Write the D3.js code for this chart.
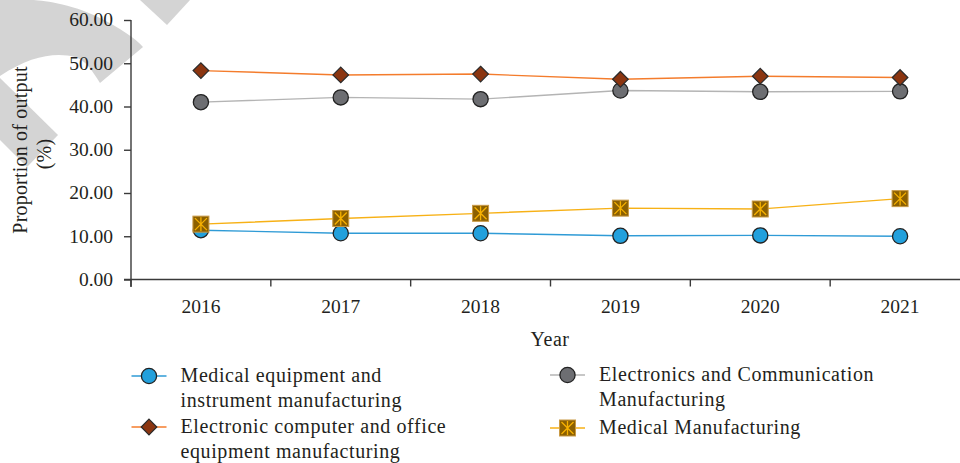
<!DOCTYPE html>
<html><head><meta charset="utf-8">
<script src="https://cdn.jsdelivr.net/npm/d3@7"></script>
<style>html,body{margin:0;padding:0;background:#fff;}svg{display:block;}</style>
</head><body>
<svg id="c" width="960" height="463"></svg>
<script>
const years = ["2016","2017","2018","2019","2020","2021"];
const yTicks = [0,10,20,30,40,50,60];
const medEquip = [11.4,10.7,10.7,10.1,10.2,10.0];
const elecComputer = [48.3,47.3,47.5,46.3,47.0,46.7];
const elecComm = [41.0,42.1,41.7,43.7,43.4,43.5];
const medManu = [12.8,14.1,15.3,16.5,16.3,18.7];
const seriesNames = ["Medical equipment and\ninstrument manufacturing","Electronic computer and office\nequipment manufacturing","Electronics and Communication\nManufacturing","Medical Manufacturing"];

const svg = d3.select("#c");
const FONT = "'Liberation Serif','DejaVu Serif',serif";
const AX = "#3a3a3a";

// watermark fragment
const wm = svg.append("g").attr("fill","#d4d4d4");
wm.append("path").attr("d","M0,0 L32,0 C40,0 70,3 100,18 C120,28 135,38 143,47 L100,83 C92,70 85,60 75,57 C55,52 30,56 0,76 Z");
wm.append("path").attr("d","M0,78 L58,135 L27,167 L0,140 Z");
wm.append("path").attr("d","M140,0 L190,0 L167,25 Z");

const x = d3.scaleBand().domain(years).range([131,970]).padding(0);
const y = d3.scaleLinear().domain([0,60]).range([279.5,20]);

// axes
const yAxis = svg.append("g").attr("transform","translate(131,0)")
  .call(d3.axisLeft(y).tickValues(yTicks).tickFormat(d3.format(".2f")).tickSize(7).tickSizeOuter(0));
const xAxis = svg.append("g").attr("transform","translate(0,279.5)")
  .call(d3.axisBottom(x).tickSize(0).tickSizeOuter(0));
const bounds = years.map(d=>x(d)).concat([x.range()[1]]);
xAxis.selectAll(".bt").data(bounds).enter().append("line").attr("class","bt")
  .attr("x1",d=>d).attr("x2",d=>d).attr("y1",0).attr("y2",7);
[yAxis,xAxis].forEach(g=>{
  g.select(".domain").attr("stroke",AX).attr("stroke-width",1.4);
  g.selectAll("line").attr("stroke",AX).attr("stroke-width",1.4);
  g.selectAll("text").attr("font-family",FONT).attr("font-size",19.5).attr("fill","#231f20");
});
yAxis.select(".domain").attr("d","M0,20V287");
xAxis.select(".domain").attr("d","M124,0H970");
yAxis.selectAll(".tick text").attr("x",-18).attr("dy","0.3em");
xAxis.selectAll(".tick text").attr("dy","0").attr("y",33);

// axis titles
svg.append("text").attr("x",550).attr("y",346).attr("text-anchor","middle")
  .attr("font-family",FONT).attr("font-size",20).attr("letter-spacing",0.5).attr("fill","#231f20").text("Year");
const yt = svg.append("text").attr("transform","translate(27,150) rotate(-90)").attr("text-anchor","middle")
  .attr("font-family",FONT).attr("font-size",20).attr("letter-spacing",0.2).attr("fill","#231f20");
yt.append("tspan").attr("x",0).attr("y",0).text("Proportion of output");
yt.append("tspan").attr("x",-4).attr("y",24).text("(%)");

// marker drawers
function circleMarker(fill){return (g)=>g.append("circle").attr("r",7.6).attr("fill",fill).attr("stroke","#222").attr("stroke-width",1.3);}
function diamondMarker(g){g.append("path").attr("d","M0,-7.8L7.8,0L0,7.8L-7.8,0Z").attr("fill","#8b3510").attr("stroke","#2a2a2a").attr("stroke-width",1.2);}
function squareMarker(g){
  g.append("rect").attr("x",-8).attr("y",-8).attr("width",16).attr("height",16).attr("fill","#8c6000").attr("stroke","#c99a45").attr("stroke-width",1);
  g.append("path").attr("d","M-6,-6L6,6M6,-6L-6,6M0,-7V7").attr("stroke","#f7b100").attr("stroke-width",1.3).attr("fill","none");
}

const series = [
  {name:seriesNames[0], values:medEquip, line:"#2f9bd6", marker:circleMarker("#22a0dc"), lx:131.5, ly:376},
  {name:seriesNames[2], values:elecComm, line:"#b4b4b4", marker:circleMarker("#6d6e72"), lx:550, ly:375},
  {name:seriesNames[1], values:elecComputer, line:"#f47c2c", marker:diamondMarker, lx:131.5, ly:427},
  {name:seriesNames[3], values:medManu, line:"#f7b116", marker:squareMarker, lx:550, ly:428}
];

const lineGen = d3.line().x((d,i)=>x(years[i])+x.bandwidth()/2).y(d=>y(d));
series.forEach(s=>{
  svg.append("path").datum(s.values).attr("d",lineGen).attr("fill","none").attr("stroke",s.line).attr("stroke-width",1.4);
});
series.forEach(s=>{
  s.values.forEach((v,i)=>{
    const g = svg.append("g").attr("transform",`translate(${x(years[i])+x.bandwidth()/2},${y(v)})`);
    s.marker(g);
  });
});

// legend
series.forEach(s=>{
  const g = svg.append("g").attr("transform",`translate(${s.lx},${s.ly})`);
  g.append("line").attr("x1",0).attr("x2",35).attr("y1",0).attr("y2",0).attr("stroke",s.line).attr("stroke-width",1.4);
  const m = g.append("g").attr("transform","translate(17.5,0)");
  s.marker(m);
  const t = g.append("text").attr("font-family",FONT).attr("font-size",20).attr("letter-spacing",0.6).attr("fill","#231f20");
  s.name.split("\n").forEach((ln,k)=>{
    t.append("tspan").attr("x",49).attr("y",6+k*24.5).text(ln);
  });
});
</script>
</body></html>
